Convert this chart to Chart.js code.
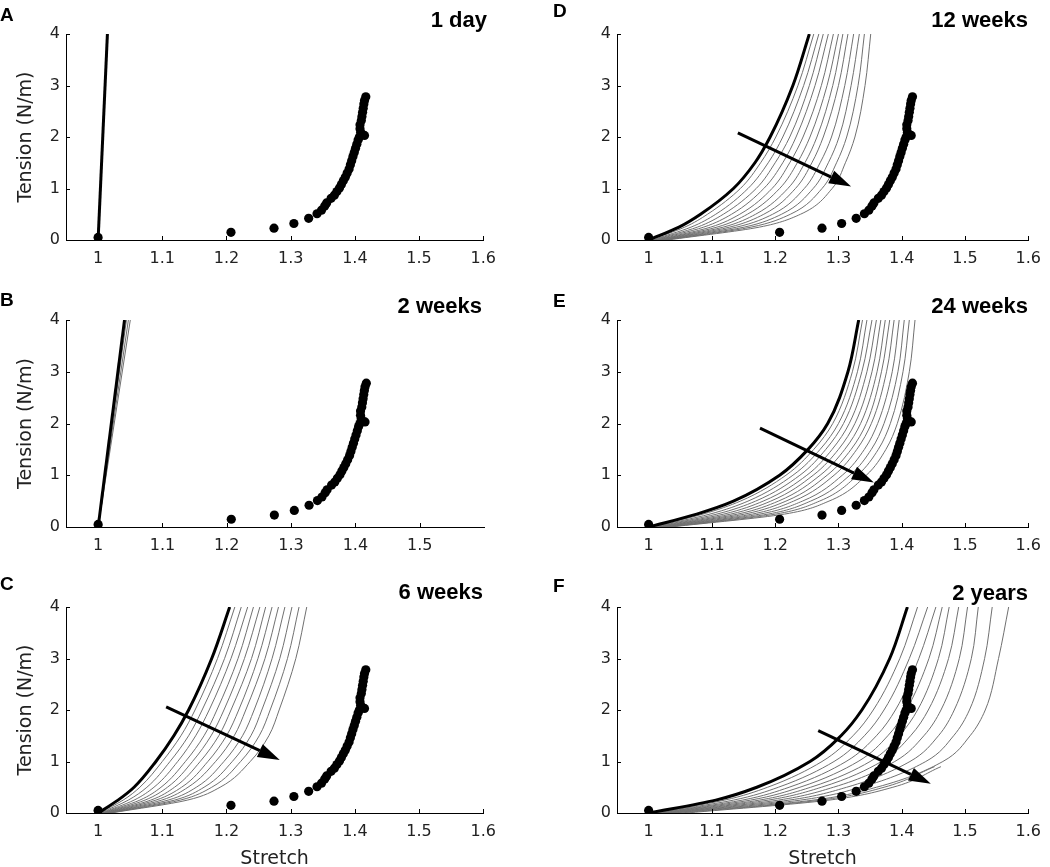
<!DOCTYPE html>
<html>
<head>
<meta charset="utf-8">
<script src="https://cdn.jsdelivr.net/npm/chart.js@4.4.0/dist/chart.umd.min.js"></script>
<style>
  html, body { margin: 0; padding: 0; background: #fff; overflow: hidden; }
  #wrap { position: relative; width: 1050px; height: 867px; }
  canvas { position: absolute; }
</style>
</head>
<body>
<div id="wrap"></div>
<script>
// measured points, same in every panel
const dotStretch = [1.000, 1.207, 1.274, 1.305, 1.328, 1.341, 1.348, 1.353, 1.356, 1.363, 1.368, 1.372, 1.376,
  1.379, 1.382, 1.385, 1.388, 1.391, 1.393, 1.395, 1.397, 1.399, 1.401, 1.403, 1.405, 1.407, 1.415,
  1.409, 1.408, 1.408, 1.410, 1.411, 1.412, 1.413, 1.414, 1.415, 1.417];
const dotTension = [0.05, 0.15, 0.23, 0.32, 0.42, 0.51, 0.58, 0.66, 0.72, 0.81, 0.87, 0.94, 1.01,
  1.08, 1.15, 1.22, 1.30, 1.38, 1.46, 1.54, 1.62, 1.70, 1.78, 1.86, 1.94, 2.00, 2.03,
  2.09, 2.16, 2.24, 2.32, 2.40, 2.48, 2.56, 2.64, 2.71, 2.78];

// tension levels the model curves are read at
const tensionLevels = [0, 0.25, 0.5, 1, 1.5, 2, 3, 4];
const straightLevels = [0, 4];
const shortLevels = [0, 0.25, 0.5, 0.9];

const xTicksFull = [1, 1.1, 1.2, 1.3, 1.4, 1.5, 1.6];
const xTicksB = [1, 1.1, 1.2, 1.3, 1.4, 1.5];
const yTicks = [0, 1, 2, 3, 4];

// A - 1 day
const blackA = [1.000, 1.0145];

// B - 2 weeks
const blackB = [1.000, 1.041];
const grayB = [
  [1.000, 1.044],
  [1.000, 1.047],
  [1.000, 1.050]
];

// C - 6 weeks
const blackC = [1.000, 1.031, 1.056, 1.090, 1.118, 1.141, 1.177, 1.205];
const grayC = [
  [1.001, 1.039, 1.065, 1.100, 1.129, 1.151, 1.186, 1.213],
  [1.003, 1.047, 1.076, 1.112, 1.141, 1.162, 1.197, 1.223],
  [1.005, 1.056, 1.087, 1.124, 1.152, 1.173, 1.207, 1.233],
  [1.006, 1.065, 1.098, 1.136, 1.165, 1.185, 1.218, 1.242],
  [1.008, 1.073, 1.108, 1.147, 1.176, 1.196, 1.228, 1.252],
  [1.009, 1.082, 1.119, 1.159, 1.188, 1.207, 1.239, 1.261],
  [1.011, 1.090, 1.130, 1.171, 1.200, 1.219, 1.249, 1.271],
  [1.013, 1.099, 1.140, 1.183, 1.212, 1.230, 1.260, 1.281],
  [1.014, 1.109, 1.153, 1.196, 1.225, 1.243, 1.271, 1.291],
  [1.016, 1.119, 1.165, 1.209, 1.238, 1.255, 1.283, 1.302],
  [1.018, 1.128, 1.177, 1.222, 1.251, 1.268, 1.295, 1.313],
  [1.020, 1.139, 1.190, 1.237, 1.266, 1.282, 1.308, 1.325]
];
const arrowC = [1.106, 2.06, 1.283, 1.03];

// D - 12 weeks
const blackD = [1.000, 1.048, 1.082, 1.134, 1.168, 1.192, 1.228, 1.254];
const grayD = [
  [1.002, 1.057, 1.093, 1.145, 1.177, 1.201, 1.236, 1.261],
  [1.005, 1.067, 1.106, 1.157, 1.189, 1.212, 1.245, 1.269],
  [1.007, 1.077, 1.118, 1.170, 1.200, 1.223, 1.254, 1.276],
  [1.009, 1.087, 1.131, 1.182, 1.212, 1.233, 1.263, 1.284],
  [1.012, 1.098, 1.144, 1.195, 1.223, 1.244, 1.273, 1.292],
  [1.014, 1.108, 1.156, 1.207, 1.235, 1.255, 1.282, 1.300],
  [1.017, 1.118, 1.169, 1.220, 1.247, 1.266, 1.291, 1.307],
  [1.019, 1.128, 1.182, 1.232, 1.258, 1.276, 1.300, 1.315],
  [1.022, 1.139, 1.196, 1.246, 1.271, 1.289, 1.310, 1.324],
  [1.024, 1.151, 1.210, 1.260, 1.284, 1.301, 1.320, 1.333],
  [1.027, 1.162, 1.224, 1.274, 1.297, 1.313, 1.331, 1.341],
  [1.030, 1.175, 1.240, 1.290, 1.311, 1.326, 1.342, 1.351]
];
const arrowD = [1.141, 2.08, 1.320, 1.04];

// E - 24 weeks
const blackE = [1.000, 1.076, 1.134, 1.207, 1.252, 1.283, 1.315, 1.332];
const grayE = [
  [1.002, 1.086, 1.145, 1.217, 1.261, 1.291, 1.322, 1.338],
  [1.005, 1.097, 1.157, 1.228, 1.271, 1.300, 1.330, 1.345],
  [1.008, 1.108, 1.169, 1.239, 1.280, 1.308, 1.337, 1.353],
  [1.011, 1.119, 1.181, 1.250, 1.290, 1.317, 1.345, 1.360],
  [1.014, 1.130, 1.193, 1.260, 1.300, 1.326, 1.353, 1.367],
  [1.016, 1.141, 1.205, 1.271, 1.310, 1.335, 1.361, 1.374],
  [1.019, 1.152, 1.217, 1.282, 1.320, 1.344, 1.368, 1.381],
  [1.022, 1.164, 1.229, 1.293, 1.329, 1.352, 1.376, 1.388],
  [1.025, 1.176, 1.243, 1.306, 1.341, 1.362, 1.385, 1.396],
  [1.028, 1.189, 1.256, 1.318, 1.352, 1.372, 1.394, 1.404],
  [1.032, 1.201, 1.270, 1.330, 1.363, 1.382, 1.402, 1.412],
  [1.035, 1.215, 1.285, 1.344, 1.375, 1.393, 1.412, 1.421]
];
const arrowE = [1.176, 1.91, 1.356, 0.86];

// F - 2 years
const blackF = [1.000, 1.106, 1.171, 1.255, 1.304, 1.337, 1.381, 1.409];
const grayF = [
  [1.004, 1.120, 1.188, 1.274, 1.323, 1.355, 1.397, 1.425],
  [1.007, 1.134, 1.205, 1.293, 1.341, 1.372, 1.412, 1.441],
  [1.011, 1.148, 1.222, 1.312, 1.360, 1.390, 1.427, 1.454],
  [1.014, 1.161, 1.239, 1.331, 1.378, 1.407, 1.443, 1.464],
  [1.018, 1.175, 1.256, 1.350, 1.396, 1.425, 1.458, 1.475],
  [1.022, 1.189, 1.273, 1.368, 1.414, 1.442, 1.474, 1.490],
  [1.026, 1.205, 1.292, 1.389, 1.435, 1.462, 1.491, 1.504],
  [1.030, 1.222, 1.313, 1.413, 1.458, 1.483, 1.510, 1.521],
  [1.035, 1.240, 1.335, 1.438, 1.482, 1.507, 1.531, 1.543],
  [1.040, 1.260, 1.360, 1.465, 1.508, 1.532, 1.553, 1.569]
];
// the two lowest curves stop early
const grayFShort = [
  [1.050, 1.272, 1.372, 1.452],
  [1.060, 1.285, 1.386, 1.462]
];
const arrowF = [1.268, 1.60, 1.446, 0.57];

// page layout
const cols = [
  { left: 0, width: 505, plotLeft: 66, plotRight: 484 },
  { left: 520, width: 530, plotLeft: 617, plotRight: 1030 }
];
const rows = [
  { top: 0, height: 290, plotTop: 34, plotBottom: 240 },
  { top: 285, height: 295, plotTop: 320, plotBottom: 527 },
  { top: 570, height: 310, plotTop: 607, plotBottom: 813 }
];

const GRAY = '#707070';
const FONT = "'DejaVu Sans', sans-serif";

function toPoints(xs, levels) {
  return xs.map((x, i) => ({ x: x, y: levels[i] }));
}

// tick marks drawn inside the axes, panel letter, title and arrow
const panelDeco = {
  id: 'panelDeco',
  afterDatasetsDraw(chart, args, opts) {
    if (!opts.arrow) return;
    const { ctx, scales: { x, y } } = chart;
    const a = opts.arrow;
    const x0 = x.getPixelForValue(a[0]), y0 = y.getPixelForValue(a[1]);
    const x1 = x.getPixelForValue(a[2]), y1 = y.getPixelForValue(a[3]);
    const ang = Math.atan2(y1 - y0, x1 - x0);
    const headLen = 22, headW = 7;
    const bx = x1 - headLen * Math.cos(ang), by = y1 - headLen * Math.sin(ang);
    ctx.save();
    ctx.strokeStyle = '#000';
    ctx.fillStyle = '#000';
    ctx.lineWidth = 3;
    ctx.beginPath();
    ctx.moveTo(x0, y0);
    ctx.lineTo(bx, by);
    ctx.stroke();
    ctx.beginPath();
    ctx.moveTo(x1, y1);
    ctx.lineTo(bx + headW * Math.sin(ang), by - headW * Math.cos(ang));
    ctx.lineTo(bx - headW * Math.sin(ang), by + headW * Math.cos(ang));
    ctx.closePath();
    ctx.fill();
    ctx.restore();
  },
  afterDraw(chart, args, opts) {
    const { ctx, chartArea, scales: { x, y } } = chart;
    ctx.save();
    ctx.strokeStyle = '#000';
    ctx.lineWidth = 1;
    x.ticks.forEach(t => {
      const px = Math.round(x.getPixelForValue(t.value)) + 0.5;
      ctx.beginPath();
      ctx.moveTo(px, chartArea.bottom);
      ctx.lineTo(px, chartArea.bottom - 4);
      ctx.stroke();
    });
    y.ticks.forEach(t => {
      const py = Math.round(y.getPixelForValue(t.value)) + 0.5;
      ctx.beginPath();
      ctx.moveTo(chartArea.left, py);
      ctx.lineTo(chartArea.left + 4, py);
      ctx.stroke();
    });
    ctx.fillStyle = '#000';
    ctx.textBaseline = 'alphabetic';
    ctx.font = "bold 19px 'Liberation Sans', Arial, sans-serif";
    ctx.textAlign = 'left';
    ctx.fillText(opts.letter, opts.letterX - opts.left, opts.letterY - opts.top);
    ctx.font = "bold 22px 'Liberation Sans', Arial, sans-serif";
    ctx.textAlign = 'right';
    ctx.fillText(opts.title, opts.titleX - opts.left, opts.titleY - opts.top);
    ctx.restore();
  }
};

function curveSet(xs, levels, color, width) {
  return {
    data: toPoints(xs, levels),
    showLine: true,
    borderColor: color,
    borderWidth: width,
    pointRadius: 0,
    cubicInterpolationMode: 'monotone'
  };
}

function makePanel(p) {
  const col = cols[p.col], row = rows[p.row];
  const canvas = document.createElement('canvas');
  canvas.width = col.width;
  canvas.height = row.height;
  canvas.style.left = col.left + 'px';
  canvas.style.top = row.top + 'px';
  canvas.style.width = col.width + 'px';
  canvas.style.height = row.height + 'px';
  document.getElementById('wrap').appendChild(canvas);

  // first dataset is drawn on top
  const datasets = [{
    data: toPoints(dotStretch, dotTension),
    showLine: false,
    pointRadius: 4.6,
    pointBackgroundColor: '#000',
    pointBorderWidth: 0
  }];
  datasets.push(curveSet(p.black, p.blackLevels, '#000', 3));
  p.grays.forEach(g => datasets.push(curveSet(g, p.grayLevels, GRAY, 1)));
  (p.shortGrays || []).forEach(g => datasets.push(curveSet(g, shortLevels, GRAY, 1)));

  new Chart(canvas.getContext('2d'), {
    type: 'scatter',
    data: { datasets: datasets },
    plugins: [panelDeco],
    options: {
      responsive: false,
      animation: false,
      // curves are smoothed along tension, not stretch
      indexAxis: 'y',
      layout: {
        padding: { top: row.plotTop - row.top, right: col.left + col.width - col.plotRight, left: 0, bottom: 0 }
      },
      plugins: {
        legend: { display: false },
        tooltip: { enabled: false },
        panelDeco: {
          left: col.left, top: row.top,
          letter: p.letter, letterX: p.letterX, letterY: p.letterY,
          title: p.title, titleX: p.titleX, titleY: p.titleY,
          arrow: p.arrow
        }
      },
      scales: {
        x: {
          type: 'linear',
          position: 'bottom',
          min: 0.95,
          max: 1.6,
          grid: { display: false, drawTicks: false },
          border: { display: true, color: '#000', width: 1 },
          afterBuildTicks: s => { s.ticks = p.xTicks.map(v => ({ value: v })); },
          afterFit: s => { s.height = row.top + row.height - row.plotBottom; },
          ticks: {
            padding: 9,
            color: '#222',
            font: { family: FONT, size: 16 },
            maxRotation: 0,
            callback: v => String(Math.round(v * 10) / 10)
          },
          title: {
            display: p.row === 2,
            text: 'Stretch',
            color: '#222',
            font: { family: FONT, size: 19 },
            padding: { top: 0, bottom: 10 }
          }
        },
        y: {
          type: 'linear',
          position: 'left',
          min: 0,
          max: 4,
          grid: { display: false, drawTicks: false },
          border: { display: true, color: '#000', width: 1 },
          afterBuildTicks: s => { s.ticks = yTicks.map(v => ({ value: v })); },
          afterFit: s => { s.width = col.plotLeft - col.left; },
          ticks: {
            padding: 6,
            color: '#222',
            font: { family: FONT, size: 16 },
            callback: v => String(v)
          },
          title: {
            display: p.col === 0,
            text: 'Tension (N/m)',
            color: '#222',
            font: { family: FONT, size: 19 },
            padding: { top: 15, bottom: 0 }
          }
        }
      }
    }
  });
}

makePanel({ col: 0, row: 0, letter: 'A', letterX: 0, letterY: 21, title: '1 day', titleX: 487, titleY: 27,
  black: blackA, blackLevels: straightLevels, grays: [], grayLevels: straightLevels, arrow: null, xTicks: xTicksFull });
makePanel({ col: 0, row: 1, letter: 'B', letterX: 0, letterY: 306, title: '2 weeks', titleX: 482, titleY: 313,
  black: blackB, blackLevels: straightLevels, grays: grayB, grayLevels: straightLevels, arrow: null, xTicks: xTicksB });
makePanel({ col: 0, row: 2, letter: 'C', letterX: 0, letterY: 590, title: '6 weeks', titleX: 483, titleY: 599,
  black: blackC, blackLevels: tensionLevels, grays: grayC, grayLevels: tensionLevels, arrow: arrowC, xTicks: xTicksFull });
makePanel({ col: 1, row: 0, letter: 'D', letterX: 553, letterY: 17, title: '12 weeks', titleX: 1028, titleY: 27,
  black: blackD, blackLevels: tensionLevels, grays: grayD, grayLevels: tensionLevels, arrow: arrowD, xTicks: xTicksFull });
makePanel({ col: 1, row: 1, letter: 'E', letterX: 553, letterY: 307, title: '24 weeks', titleX: 1028, titleY: 313,
  black: blackE, blackLevels: tensionLevels, grays: grayE, grayLevels: tensionLevels, arrow: arrowE, xTicks: xTicksFull });
makePanel({ col: 1, row: 2, letter: 'F', letterX: 553, letterY: 592, title: '2 years', titleX: 1028, titleY: 600,
  black: blackF, blackLevels: tensionLevels, grays: grayF, grayLevels: tensionLevels, shortGrays: grayFShort,
  arrow: arrowF, xTicks: xTicksFull });
</script>
</body>
</html>
